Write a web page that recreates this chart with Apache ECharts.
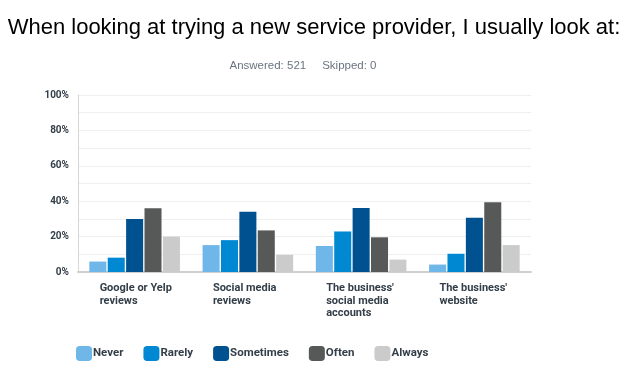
<!DOCTYPE html>
<html><head><meta charset="utf-8">
<script src="https://cdn.jsdelivr.net/npm/echarts@6/dist/echarts.min.js"></script>
<style>html,body{margin:0;padding:0;background:#fff}#c{width:628px;height:369px}</style>
</head><body><div id="c"></div>
<script>
const categories = ["Google or Yelp\nreviews", "Social media\nreviews", "The business'\nsocial media\naccounts", "The business'\nwebsite"];
const seriesNames = ["Never", "Rarely", "Sometimes", "Often", "Always"];
const never = [5.9, 15.2, 14.7, 4.2];
const rarely = [8.1, 18.0, 22.9, 10.3];
const sometimes = [30.0, 34.0, 36.1, 30.6];
const often = [36.0, 23.5, 19.6, 39.4];
const always = [20.0, 9.7, 7.0, 15.2];
const colors = ["#6fb7e9", "#0088d2", "#00518f", "#575959", "#cbcbcb"];
const values = [never, rarely, sometimes, often, always];
const labelFont = "Roboto";
const chart = echarts.init(document.getElementById('c'));
chart.setOption({
  animation: false,
  color: colors,
  title: [{
    text: "When looking at trying a new service provider, I usually look at:",
    left: 'center', top: 12,
    textStyle: {fontFamily: 'Liberation Sans', fontSize: 22, fontWeight: 'normal', color: '#000'}
  }, {
    text: "Answered: 521     Skipped: 0",
    left: 298, textAlign: 'center', top: 55,
    textStyle: {fontFamily: 'Liberation Sans', fontSize: 11.5, fontWeight: 'normal', color: '#6b7480'}
  }],
  legend: {
    left: 71, top: 341, itemWidth: 16, itemHeight: 15, itemGap: 20,
    icon: 'roundRect',
    textStyle: {fontFamily: labelFont, fontWeight: 'bold', fontSize: 11.5, color: '#333e48', padding: [0,0,0,-4]},
    data: seriesNames
  },
  grid: {left: 78, right: 97, top: 95, bottom: 97},
  xAxis: {
    type: 'category', data: categories,
    axisLine: {lineStyle: {color: '#cfcfcf', width: 2}},
    axisTick: {show: false},
    axisLabel: {
      margin: 10, interval: 0,
      formatter: v => v.split('\n').map(s => '{a|' + s + '}').join('\n'),
      rich: {a: {width: 70, align: 'left', fontFamily: labelFont, fontWeight: 'bold', fontSize: 11, color: '#333e48', lineHeight: 12.5}}
    }
  },
  yAxis: {
    type: 'value', min: 0, max: 100, interval: 10,
    axisLine: {show: true, lineStyle: {color: '#d6d6d6', width: 1}},
    axisTick: {show: false},
    splitLine: {lineStyle: {color: '#efefef', width: 1}},
    axisLabel: {
      margin: 9,
      formatter: v => (v % 20 === 0 ? v + '%' : ''),
      fontFamily: labelFont, fontWeight: 'bold', fontSize: 10, color: '#333e48'
    }
  },
  series: seriesNames.map((n, i) => ({
    name: n, type: 'bar', data: values[i],
    barGap: '8%', barCategoryGap: '20%'
  }))
});
</script></body></html>
